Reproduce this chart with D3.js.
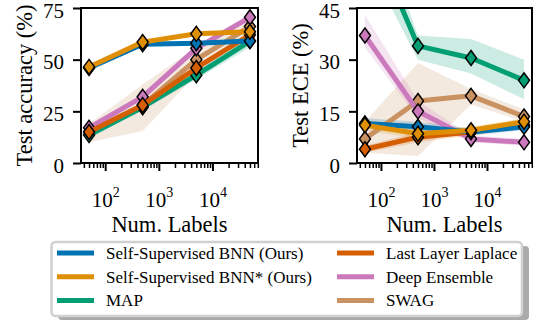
<!DOCTYPE html>
<html>
<head>
<meta charset="utf-8">
<script src="https://cdn.jsdelivr.net/npm/d3@7"></script>
<style>
  body { margin: 0; background: #fff; }
  svg text { font-family: "Liberation Serif", "Times New Roman", Times, "DejaVu Serif", serif; }
</style>
</head>
<body>
<div id="chart"></div>
<script>
// number of labels on the x axis
const numLabels = [50, 500, 5000, 50000];

// methods, in legend order
const methodNames = [
  'Self-Supervised BNN (Ours)',
  'Self-Supervised BNN* (Ours)',
  'MAP',
  'Last Layer Laplace',
  'Deep Ensemble',
  'SWAG',
];
const methodColors = ['#0173b2', '#de8f05', '#029e73', '#d55e00', '#cc78bc', '#ca9161'];
// draw order (index into the method lists)
const drawOrder = [5, 4, 2, 3, 0, 1];

// test accuracy (%), one row per method
const accMean = [
  [46, 57.5, 58, 59],
  [46.5, 58.5, 62.5, 63.5],
  [13.5, 27, 42.5, 59],
  [15, 28, 46, 62],
  [17, 32, 55.5, 70.5],
  [15, 28, 50, 66],
];
const accLo = [
  [44.5, 56.5, 57, 58],
  [45.5, 57.5, 61.5, 62.5],
  [12, 25.5, 40.5, 56],
  [14, 27, 45, 61],
  [15.5, 30.5, 54, 69],
  [10, 15.5, 43, 63],
];
const accHi = [
  [47.5, 58.5, 59, 60],
  [47.5, 59.5, 63.5, 64.5],
  [15, 28.5, 44.5, 62],
  [16, 29, 47, 63],
  [18.5, 33.5, 57, 72],
  [19, 38, 56, 69],
];

// test ECE (%), one row per method
const eceMean = [
  [11.5, 10.5, 9, 10.5],
  [11, 8.5, 9.5, 12],
  [70, 34, 30.5, 24],
  [4, 7.5, 9, 11],
  [37, 15, 7, 6],
  [7, 18, 19.5, 13.5],
];
const eceLo = [
  [10, 9, 8, 9.5],
  [9.5, 7, 8.5, 11],
  [60, 30, 26, 18.5],
  [3, 6, 8, 10],
  [33.5, 13, 6, 5],
  [3, 2, 17, 12],
];
const eceHi = [
  [13, 12, 10, 11.5],
  [12.5, 10, 10.5, 13],
  [80, 37, 36, 30],
  [5, 9, 10, 12],
  [43, 18, 8, 7],
  [12, 29, 21.5, 15.5],
];

const accTicks = [0, 25, 50, 75];
const eceTicks = [0, 15, 30, 45];
const xMajor = [100, 1000, 10000];

const FONT = '"Liberation Serif", "Times New Roman", Times, "DejaVu Serif", serif';
const W = 535, H = 324;
const svg = d3.select('#chart').append('svg')
  .attr('width', W).attr('height', H)
  .attr('font-family', FONT);

// log x domain with 5% margins around 50..50000 (in decades)
const xDomain = [Math.pow(10, Math.log10(50) - 0.15), Math.pow(10, Math.log10(50000) + 0.15)];
const xMinor = [];
for (let d = 1; d <= 4; d++) {
  for (let k = 2; k <= 9; k++) {
    const v = k * Math.pow(10, d);
    if (v >= xDomain[0] && v <= xDomain[1]) xMinor.push(v);
  }
}

function drawPanel(id, left, right, yMax, yTicks, yLabel, mean, lo, hi) {
  const top = 8, bottom = 163;
  const x = d3.scaleLog().domain(xDomain).range([left, right]);
  const y = d3.scaleLinear().domain([0, yMax]).range([bottom, top]);
  const g = svg.append('g');

  g.append('clipPath').attr('id', 'clip-' + id)
    .append('rect').attr('x', left).attr('y', top).attr('width', right - left).attr('height', bottom - top);

  const plot = g.append('g').attr('clip-path', `url(#clip-${id})`);

  const area = d3.area()
    .x((d, i) => x(numLabels[i]))
    .y0((d) => y(d[0]))
    .y1((d) => y(d[1]));
  const line = d3.line()
    .x((d, i) => x(numLabels[i]))
    .y((d) => y(d));

  drawOrder.forEach((m) => {
    plot.append('path')
      .datum(lo[m].map((v, i) => [v, hi[m][i]]))
      .attr('fill', methodColors[m])
      .attr('fill-opacity', 0.2)
      .attr('d', area);
  });

  const diamond = 'M0,-7.5L5.5,0L0,7.5L-5.5,0Z';
  drawOrder.forEach((m) => {
    plot.append('path')
      .datum(mean[m])
      .attr('fill', 'none')
      .attr('stroke', methodColors[m])
      .attr('stroke-width', 5)
      .attr('stroke-linejoin', 'round')
      .attr('d', line);
    plot.selectAll(null)
      .data(mean[m])
      .enter()
      .append('path')
      .attr('d', diamond)
      .attr('transform', (d, i) => `translate(${x(numLabels[i])},${y(d)})`)
      .attr('fill', methodColors[m])
      .attr('stroke', '#000')
      .attr('stroke-width', 1.5);
  });

  // spines
  g.append('rect')
    .attr('x', left).attr('y', top)
    .attr('width', right - left).attr('height', bottom - top)
    .attr('fill', 'none').attr('stroke', '#000').attr('stroke-width', 2);

  // x axis
  const xAxis = g.append('g').attr('transform', `translate(0,${bottom})`)
    .call(d3.axisBottom(x).tickValues(xMajor).tickSize(8).tickFormat(''));
  xAxis.select('.domain').remove();
  xAxis.selectAll('.tick line').attr('stroke-width', 2);
  const xMinorAxis = g.append('g').attr('transform', `translate(0,${bottom})`)
    .call(d3.axisBottom(x).tickValues(xMinor).tickSize(5).tickFormat(''));
  xMinorAxis.select('.domain').remove();
  xMinorAxis.selectAll('.tick line').attr('stroke-width', 1.5);

  xMajor.forEach((v) => {
    const t = g.append('text')
      .attr('x', x(v) + 0.5)
      .attr('y', 207)
      .attr('text-anchor', 'middle')
      .attr('font-family', FONT)
      .attr('font-size', 21);
    t.append('tspan').text('10');
    t.append('tspan').attr('dy', -10).attr('font-size', 14).text(Math.round(Math.log10(v)));
  });

  // y axis
  const yAxis = g.append('g').attr('transform', `translate(${left},0)`)
    .call(d3.axisLeft(y).tickValues(yTicks).tickSize(8).tickPadding(9));
  yAxis.select('.domain').remove();
  yAxis.attr('font-family', FONT);
  yAxis.selectAll('.tick line').attr('stroke-width', 2);
  yAxis.selectAll('.tick text')
    .attr('font-size', 21)
    .attr('font-family', FONT)
    .attr('dy', '0.43em')
    .attr('fill', '#000');

  g.append('text')
    .attr('transform', `translate(${left - 49},${(top + bottom) / 2}) rotate(-90)`)
    .attr('text-anchor', 'middle')
    .attr('font-family', FONT)
    .attr('font-size', 22.5)
    .text(yLabel);

  g.append('text')
    .attr('x', (left + right) / 2)
    .attr('y', 232)
    .attr('text-anchor', 'middle')
    .attr('font-family', FONT)
    .attr('font-size', 22.5)
    .text('Num. Labels');
}

drawPanel('acc', 81, 258, 75, accTicks, 'Test accuracy (%)', accMean, accLo, accHi);
drawPanel('ece', 357, 532, 45, eceTicks, 'Test ECE (%)', eceMean, eceLo, eceHi);

// legend
const lg = svg.append('g');
lg.append('rect')
  .attr('x', 58).attr('y', 246).attr('width', 471).attr('height', 74)
  .attr('rx', 4).attr('fill', '#aaa');
lg.append('rect')
  .attr('x', 51.5).attr('y', 242).attr('width', 470.5).attr('height', 74)
  .attr('rx', 4).attr('fill', '#fff').attr('stroke', '#d0d0d0').attr('stroke-width', 2.5);

methodNames.forEach((name, i) => {
  const col = Math.floor(i / 3), row = i % 3;
  const x0 = col === 0 ? 57 : 337;
  const yc = 253 + row * 23.7;
  lg.append('line')
    .attr('x1', x0).attr('x2', x0 + 37)
    .attr('y1', yc).attr('y2', yc)
    .attr('stroke', methodColors[i]).attr('stroke-width', 5);
  lg.append('text')
    .attr('x', x0 + 49)
    .attr('y', yc + 6)
    .attr('font-family', FONT)
    .attr('font-size', 17)
    .text(name);
});
</script>
</body>
</html>
